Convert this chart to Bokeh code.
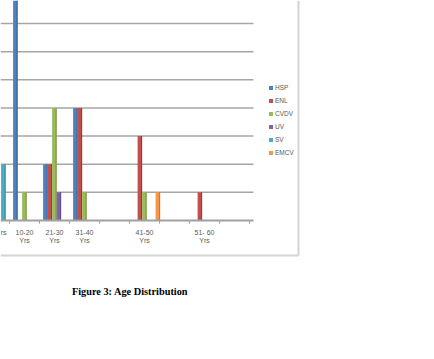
from bokeh.plotting import figure
from bokeh.models import Range1d, Legend, LegendItem, ColumnDataSource
from bokeh.transform import dodge
from bokeh.core.properties import value
from bokeh.embed import file_html
from bokeh.resources import INLINE

# ---- data ----
categories = ["<10 Yrs", "10-20\nYrs", "21-30\nYrs", "31-40\nYrs", "", "41-50\nYrs", "", "51- 60\nYrs", ""]
series_names = ["HSP", "ENL", "CVDV", "UV", "SV", "EMCV"]
hsp = [0, 10, 2, 4, 0, 0, 0, 0, 0]
enl = [0, 0, 2, 4, 0, 3, 0, 1, 0]
cvdv = [0, 1, 4, 1, 0, 1, 0, 0, 0]
uv = [0, 0, 1, 0, 0, 0, 0, 0, 0]
sv = [2, 0, 0, 0, 0, 0, 0, 0, 0]
emcv = [0, 0, 0, 0, 0, 1, 0, 0, 0]
y_ticks = [1, 2, 3, 4, 5, 6, 7, 8]
colors = ["#4F81BD", "#C0504D", "#9BBB59", "#8064A2", "#4BACC6", "#F79646"]
side_colors = ["#3A6397", "#983B39", "#7A9545", "#634D80", "#3A8A9E", "#C77632"]
caption = ["Figure 3: Age Distribution"]

# ---- scales ----
px_per_cat = 30.0
px_per_unit = 28.14
frame_w, frame_h = 300, 310
baseline_px = 220  # canvas px from top
x_start = 1 - 24 / px_per_cat
x_end = x_start + frame_w / px_per_cat
y_end = baseline_px / px_per_unit
y_start = -(frame_h - baseline_px) / px_per_unit

p = figure(width=434, height=359, output_backend="svg", toolbar_location=None,
           x_range=Range1d(x_start, x_end), y_range=Range1d(y_start, y_end),
           x_axis_location=None, y_axis_location=None,
           min_border_left=0, min_border_top=0,
           min_border_right=434 - frame_w, min_border_bottom=359 - frame_h)
p.grid.visible = False
p.outline_line_color = None
p.background_fill_color = "white"
p.border_fill_color = "white"

idx = list(range(len(categories)))
src = ColumnDataSource(dict(x=idx, label=categories, HSP=hsp, ENL=enl, CVDV=cvdv,
                            UV=uv, SV=sv, EMCV=emcv))

# plot-area extent (in category units)
area_end = x_start + 253 / px_per_cat

# gridlines
p.segment(x0=[x_start] * len(y_ticks), x1=[area_end] * len(y_ticks),
          y0=y_ticks, y1=y_ticks, line_color="#a6a6a6", line_width=1.5)

# bars (front face + darker side strip)
bw = 0.15
sw = 0.035
renderers = []
for j, name in enumerate(series_names):
    off = (j - 2.5) * bw + 0.07
    r = p.vbar(x=dodge("x", off, range=p.x_range), top=name, width=bw, bottom=0,
               source=src, fill_color=colors[j], line_color=None)
    p.vbar(x=dodge("x", off + bw / 2 - sw / 2, range=p.x_range), top=name, width=sw, bottom=0,
           source=src, fill_color=side_colors[j], line_color=None)
    renderers.append(r)

# category axis
p.segment(x0=[x_start], x1=[area_end], y0=[0], y1=[0], line_color="#a0a0a0", line_width=2)
bounds = [i + 0.5 for i in idx]
p.segment(x0=bounds, x1=bounds, y0=[0] * len(bounds), y1=[-0.11] * len(bounds),
          line_color="#a0a0a0", line_width=1)
p.text(x="x", y=-8 / px_per_unit, text="label", source=src, text_align="center",
       text_baseline="top", text_font=value("Liberation Sans"), text_font_size="7px",
       text_color="#595959", text_line_height=1.25)

# chart border (right and bottom)
bx = x_start + 298 / px_per_cat
by = (baseline_px - 255) / px_per_unit
p.segment(x0=[bx, x_start], x1=[bx, bx], y0=[y_end, by], y1=[by, by],
          line_color="#d4d4d4", line_width=2)

legend = Legend(items=[LegendItem(label=n, renderers=[r]) for n, r in zip(series_names, renderers)],
                location=(268, frame_h - 157), orientation="vertical",
                padding=0, margin=0, spacing=4, label_height=9, glyph_height=5, glyph_width=5,
                label_standoff=2, border_line_color=None, background_fill_alpha=0,
                label_text_font="Liberation Sans", label_text_font_size="6.5px",
                label_text_color="#595959")
p.add_layout(legend, "center")

# caption
p.text(x=[x_start + 129.5 / px_per_cat], y=[(baseline_px - 291) / px_per_unit], text=caption,
       text_align="center", text_baseline="middle",
       text_font=value("Liberation Serif"), text_font_style="bold",
       text_font_size="10.3px", text_color="#000000")

open("out.html", "w").write(file_html(p, INLINE))
